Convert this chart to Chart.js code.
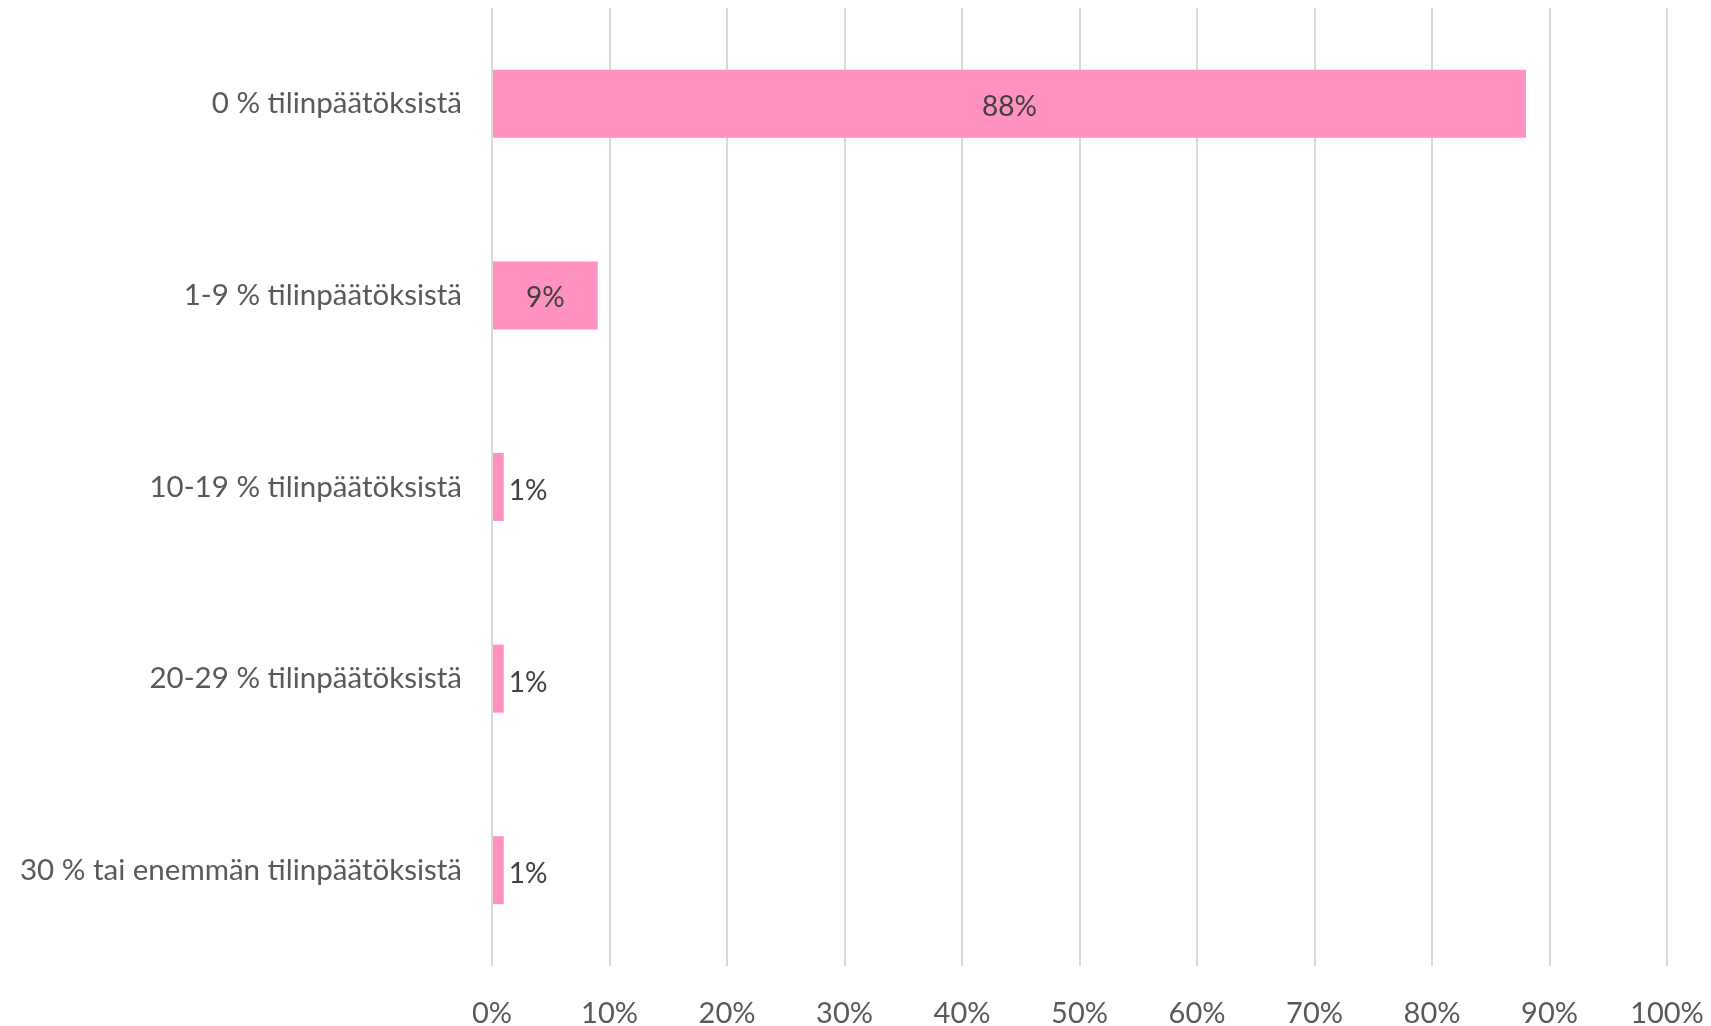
<!DOCTYPE html>
<html lang="fi">
<head>
<meta charset="UTF-8">
<title>Tilinpäätökset</title>
<script src="https://cdn.jsdelivr.net/npm/chart.js@4.4.2/dist/chart.umd.min.js"></script>
<style>
    html, body {
        margin: 0;
        padding: 0;
        background: #ffffff;
    }
    #wrap {
        width: 1711px;
        height: 1026px;
        position: relative;
    }
</style>
</head>
<body>
<div id="wrap">
    <canvas id="chart"></canvas>
</div>
<script>
    const categories = [
        '0 % tilinpäätöksistä',
        '1-9 % tilinpäätöksistä',
        '10-19 % tilinpäätöksistä',
        '20-29 % tilinpäätöksistä',
        '30 % tai enemmän tilinpäätöksistä'
    ];
    const shares = [88, 9, 1, 1, 1];
    const xTicks = [0, 10, 20, 30, 40, 50, 60, 70, 80, 90, 100];

    const fontFamily = 'Lato, "Open Sans", sans-serif';
    const textColor = '#595959';

    // writes the value labels, inside wide bars and just past the end of thin ones
    const valueLabels = {
        id: 'valueLabels',
        afterDatasetsDraw(chart) {
            const ctx = chart.ctx;
            const meta = chart.getDatasetMeta(0);
            ctx.save();
            ctx.font = '28px ' + fontFamily;
            ctx.fillStyle = '#404040';
            ctx.textBaseline = 'middle';
            meta.data.forEach(function (bar, i) {
                const v = shares[i];
                const txt = v + '%';
                if (v >= 5) {
                    ctx.textAlign = 'center';
                    ctx.fillText(txt, (bar.base + bar.x) / 2, bar.y + 3);
                } else {
                    ctx.textAlign = 'left';
                    ctx.fillText(txt, bar.x + 5, bar.y + 4);
                }
            });
            ctx.restore();
        }
    };

    new Chart(document.getElementById('chart'), {
        type: 'bar',
        data: {
            labels: categories,
            datasets: [{
                data: shares,
                backgroundColor: '#ff92c0',
                borderWidth: 0,
                barPercentage: 0.355,
                categoryPercentage: 1
            }]
        },
        options: {
            indexAxis: 'y',
            responsive: true,
            maintainAspectRatio: false,
            animation: false,
            layout: { padding: { top: 8, right: 44, left: 0, bottom: 0 } },
            plugins: {
                legend: { display: false },
                tooltip: { enabled: false }
            },
            scales: {
                x: {
                    min: 0,
                    max: 100,
                    afterBuildTicks(scale) {
                        scale.ticks = xTicks.map(v => ({ value: v }));
                    },
                    afterFit(scale) {
                        scale.height = 60;
                        scale.paddingLeft = 0;
                        scale.paddingRight = 0;
                    },
                    grid: { color: '#d9d9d9', lineWidth: 2, drawTicks: false },
                    border: { display: false },
                    ticks: {
                        padding: 30,
                        color: textColor,
                        font: { family: fontFamily, size: 29 },
                        callback: v => v + '%'
                    }
                },
                y: {
                    afterFit(scale) {
                        scale.width = 492;
                        scale.paddingTop = 0;
                        scale.paddingBottom = 0;
                    },
                    grid: { display: false, drawTicks: false },
                    border: { display: false },
                    ticks: {
                        padding: 30,
                        color: textColor,
                        font: { family: fontFamily, size: 29.5 }
                    }
                }
            }
        },
        plugins: [valueLabels]
    });
</script>
</body>
</html>
